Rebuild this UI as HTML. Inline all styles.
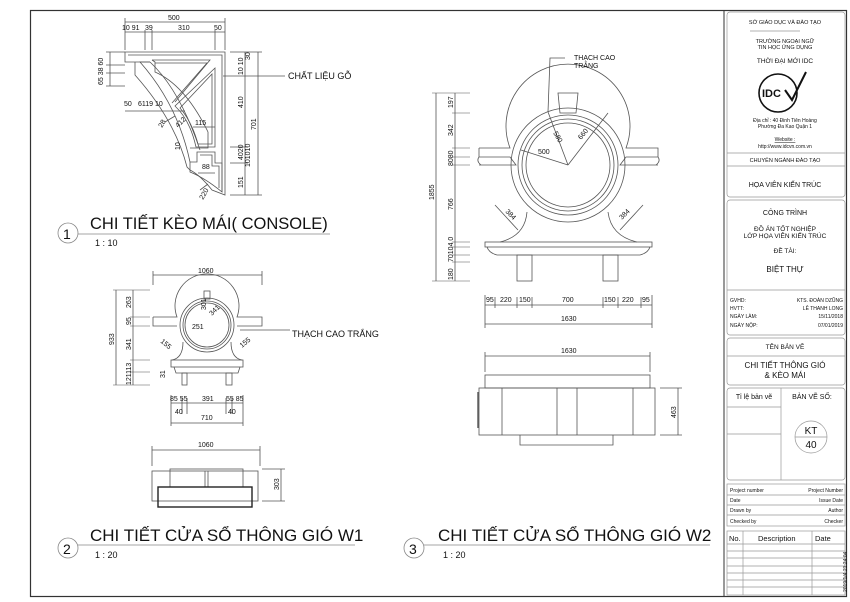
<!DOCTYPE html>
<html><head><meta charset="utf-8"><style>
html,body{margin:0;padding:0;background:#fff}
svg{display:block}
text{font-family:"Liberation Sans",sans-serif;fill:#111}
</style></head><body>
<svg width="850" height="602" viewBox="0 0 850 602" xmlns="http://www.w3.org/2000/svg">
<rect x="0" y="0" width="850" height="602" fill="#fff"/>
<rect x="30.5" y="10.5" width="816" height="586" fill="none" stroke="#333" stroke-width="1.2"/>
<line x1="724" y1="10" x2="724" y2="597" stroke="#333" stroke-width="1"/>

<g fill="none" stroke="#555" stroke-width="0.8">
<path d="M125,52 L225,52 L225,195 L212,190 Q200,175 190,170 L187,167 Q175,120 135,75 L135,62 L150,62 L125,62 Z"/>
<path d="M128,55 L222,55 L222,192"/>
<path d="M150,62 L140,62 Q178,105 190,162"/>
<path d="M150,62 Q180,90 200,150" />
<path d="M152,60 L155,62 L155,72 Q185,85 208,132 L208,148 L190,148"/>
<path d="M152,60 L210,60 L175,102"/>
<path d="M155,63 L207,63 L172,103"/>
<path d="M215,68 L215,147 L196,147 Q190,120 175,106 Z"/>
<path d="M212,74 L212,144 L198,144 Q192,122 180,108 Z"/>
<path d="M197,152 L215,152 L215,163 L222,163 L222,192 Q205,178 190,172 L190,162 L197,162 Z"/>
<path d="M200,155 L212,155 L212,166 L219,166 L219,188"/>
<line x1="125" y1="22" x2="225" y2="22"/><line x1="125" y1="32" x2="225" y2="32"/>
<line x1="125" y1="18" x2="125" y2="50"/><line x1="225" y1="18" x2="225" y2="50"/>
<line x1="145" y1="30" x2="145" y2="50"/><line x1="152" y1="30" x2="152" y2="50"/><line x1="215" y1="30" x2="215" y2="50"/>
<line x1="110" y1="52" x2="110" y2="86"/><line x1="106" y1="52" x2="125" y2="52"/><line x1="106" y1="65" x2="125" y2="65"/><line x1="106" y1="73" x2="125" y2="73"/><line x1="106" y1="86" x2="125" y2="86"/>
<line x1="125" y1="111" x2="185" y2="111"/><line x1="193" y1="127" x2="215" y2="127"/>
<line x1="245" y1="52" x2="245" y2="195"/><line x1="258" y1="52" x2="258" y2="195"/>
<line x1="230" y1="52" x2="262" y2="52"/><line x1="230" y1="195" x2="262" y2="195"/>
<line x1="230" y1="147" x2="248" y2="147"/><line x1="230" y1="163" x2="248" y2="163"/>
<line x1="198" y1="173" x2="215" y2="173"/>
<line x1="223" y1="76" x2="285" y2="76"/>
<line x1="165" y1="122" x2="175" y2="116"/><line x1="200" y1="190" x2="208" y2="184"/>
</g>
<g font-size="7">
<text x="168" y="20">500</text>
<text x="122" y="30">10 91</text><text x="145" y="30">39</text><text x="178" y="30">310</text><text x="214" y="30">50</text>
<text x="124" y="106">50</text><text x="138" y="106">6119 10</text>
<text x="195" y="125">115</text><text x="202" y="169">88</text>
<text transform="translate(103,85) rotate(-90)">65 38 60</text>
<text transform="translate(243,75) rotate(-90)">10 10</text>
<text transform="translate(250,60) rotate(-90)">30</text>
<text transform="translate(243,108) rotate(-90)">410</text>
<text transform="translate(256,130) rotate(-90)">701</text>
<text transform="translate(243,160) rotate(-90)">4020</text>
<text transform="translate(250,167) rotate(-90)">101010</text>
<text transform="translate(243,188) rotate(-90)">151</text>
<text transform="translate(178,128) rotate(-45)">412</text>
<text transform="translate(162,128) rotate(-60)">28</text>
<text transform="translate(180,150) rotate(-90)">10</text>
<text transform="translate(203,200) rotate(-60)">220</text>
</g>
<text x="288" y="79" font-size="9">CHẤT LIỆU GỖ</text>

<g fill="none" stroke="#555" stroke-width="0.8">
<path d="M479,148 L510,148 A62,62 0 1,1 626,148 L658,148 L658,157 L626,157 L620,165 L658,165 M479,148 L479,157 L510,157 L516,165 L479,165"/>
<path d="M479,157 Q476,161 481,165 M658,157 Q661,161 656,165"/>
<circle cx="568" cy="165" r="57"/>
<circle cx="568" cy="165" r="50"/>
<circle cx="568" cy="165" r="46"/>
<circle cx="568" cy="165" r="42"/>
<path d="M558,93 L578,93 L576,113 L560,113 Z"/>
<path d="M527,212 Q525,236 500,242 M608,212 Q611,236 637,242"/>
<rect x="485" y="242" width="167" height="5"/>
<path d="M487,247 Q489,253 497,255 L640,255 Q648,253 650,247"/>
<rect x="517" y="255" width="15" height="26"/><rect x="603" y="255" width="15" height="26"/>
<line x1="568" y1="165" x2="548" y2="112"/><line x1="568" y1="165" x2="608" y2="113"/><line x1="568" y1="165" x2="521" y2="150"/>
<path d="M548,112 L550,58 L565,58"/>
<line x1="495" y1="205" x2="518" y2="230"/><line x1="643" y1="205" x2="620" y2="230"/>
<line x1="436" y1="93" x2="436" y2="281"/><line x1="455" y1="93" x2="455" y2="281"/>
<g stroke-width="0.6">
<line x1="432" y1="93" x2="470" y2="93"/><line x1="452" y1="113" x2="470" y2="113"/><line x1="452" y1="148" x2="470" y2="148"/><line x1="452" y1="157" x2="470" y2="157"/><line x1="452" y1="165" x2="470" y2="165"/><line x1="452" y1="242" x2="470" y2="242"/><line x1="452" y1="247" x2="470" y2="247"/><line x1="452" y1="255" x2="470" y2="255"/><line x1="452" y1="262" x2="470" y2="262"/><line x1="432" y1="281" x2="470" y2="281"/>
</g>
<line x1="485" y1="305" x2="652" y2="305"/><line x1="485" y1="324" x2="652" y2="324"/>
<line x1="485" y1="295" x2="485" y2="328"/><line x1="652" y1="295" x2="652" y2="328"/>
<line x1="495" y1="297" x2="495" y2="308"/><line x1="517" y1="297" x2="517" y2="308"/><line x1="532" y1="297" x2="532" y2="308"/><line x1="603" y1="297" x2="603" y2="308"/><line x1="618" y1="297" x2="618" y2="308"/><line x1="641" y1="297" x2="641" y2="308"/>
<line x1="485" y1="356" x2="650" y2="356"/><line x1="485" y1="352" x2="485" y2="372"/><line x1="650" y1="352" x2="650" y2="372"/>
<rect x="485" y="375" width="165" height="13"/>
<rect x="479" y="388" width="176" height="47"/>
<line x1="502" y1="388" x2="502" y2="435"/><line x1="557" y1="388" x2="557" y2="435"/><line x1="577" y1="388" x2="577" y2="435"/><line x1="633" y1="388" x2="633" y2="435"/>
<polyline points="520,435 520,445 613,445 613,435"/>
<line x1="478" y1="392" x2="478" y2="428" stroke-width="1.4"/>
<line x1="678" y1="388" x2="678" y2="435"/><line x1="660" y1="388" x2="682" y2="388"/><line x1="660" y1="435" x2="682" y2="435"/>
</g>
<g font-size="7">
<text x="574" y="60">THẠCH CAO</text><text x="574" y="68">TRẮNG</text>
<text x="538" y="154">500</text>
<text transform="translate(553,133) rotate(60)">580</text>
<text transform="translate(581,140) rotate(-50)">660</text>
<text transform="translate(505,212) rotate(45)">384</text>
<text transform="translate(622,220) rotate(-45)">384</text>
<text transform="translate(434,200) rotate(-90)">1855</text>
<text transform="translate(453,108) rotate(-90)">197</text>
<text transform="translate(453,136) rotate(-90)">342</text>
<text transform="translate(453,166) rotate(-90)">8080</text>
<text transform="translate(453,210) rotate(-90)">766</text>
<text transform="translate(453,262) rotate(-90)">70104 0</text>
<text transform="translate(453,280) rotate(-90)">180</text>
<text x="486" y="302">95</text><text x="500" y="302">220</text><text x="519" y="302">150</text><text x="562" y="302">700</text><text x="604" y="302">150</text><text x="622" y="302">220</text><text x="642" y="302">95</text>
<text x="561" y="321">1630</text>
<text x="561" y="353">1630</text>
<text transform="translate(676,418) rotate(-90)">463</text>
</g>

<g fill="none" stroke="#555" stroke-width="0.8">
<path d="M153,317 L177,317 A32,32 0 1,1 237,317 L262,317 L262,326 L237,326 M153,317 L153,326 L177,326"/>
<circle cx="207" cy="325" r="27"/><circle cx="207" cy="325" r="24"/><circle cx="207" cy="325" r="22"/>
<rect x="204" y="291" width="6" height="8"/>
<path d="M183,342 Q183,358 172,360 M231,342 Q231,358 242,360"/>
<rect x="171" y="360" width="72" height="7"/>
<path d="M174,367 L176,373 L238,373 L240,367"/>
<rect x="182" y="373" width="5" height="12"/><rect x="226" y="373" width="6" height="12"/>
<line x1="240" y1="330" x2="290" y2="330"/>
<line x1="153" y1="275" x2="262" y2="275"/><line x1="153" y1="271" x2="153" y2="285"/><line x1="262" y1="271" x2="262" y2="285"/>
<line x1="116" y1="290" x2="116" y2="385"/><line x1="133" y1="290" x2="133" y2="385"/>
<g stroke-width="0.6"><line x1="113" y1="290" x2="150" y2="290"/><line x1="130" y1="317" x2="150" y2="317"/><line x1="130" y1="326" x2="150" y2="326"/><line x1="130" y1="360" x2="150" y2="360"/><line x1="130" y1="372" x2="150" y2="372"/><line x1="113" y1="385" x2="150" y2="385"/></g>
<line x1="171" y1="403" x2="243" y2="403"/><line x1="171" y1="423" x2="243" y2="423"/>
<line x1="171" y1="395" x2="171" y2="426"/><line x1="243" y1="395" x2="243" y2="426"/>
<line x1="182" y1="398" x2="182" y2="414"/><line x1="187" y1="398" x2="187" y2="414"/><line x1="226" y1="398" x2="226" y2="414"/><line x1="232" y1="398" x2="232" y2="414"/>
<line x1="152" y1="450" x2="260" y2="450"/><line x1="152" y1="446" x2="152" y2="466"/><line x1="260" y1="446" x2="260" y2="466"/>
<rect x="152" y="471" width="106" height="30"/>
<rect x="170" y="469" width="73" height="18"/>
<line x1="205" y1="471" x2="205" y2="487"/><line x1="208" y1="471" x2="208" y2="487"/>
<rect x="158" y="487" width="94" height="20" stroke="#222" stroke-width="1.4"/>
<line x1="281" y1="469" x2="281" y2="501"/><line x1="262" y1="469" x2="285" y2="469"/><line x1="262" y1="501" x2="285" y2="501"/>
</g>
<g font-size="7">
<text x="198" y="273">1060</text>
<text transform="translate(114,345) rotate(-90)">933</text>
<text transform="translate(131,308) rotate(-90)">263</text>
<text transform="translate(131,325) rotate(-90)">95</text>
<text transform="translate(131,350) rotate(-90)">341</text>
<text transform="translate(131,385) rotate(-90)">121113</text>
<text transform="translate(165,378) rotate(-90)">31</text>
<text x="192" y="329">251</text>
<text transform="translate(206,310) rotate(-90)">301</text>
<text transform="translate(212,316) rotate(-45)">341</text>
<text transform="translate(160,342) rotate(40)">155</text>
<text transform="translate(242,348) rotate(-40)">155</text>
<text x="170" y="401">85 55</text><text x="202" y="401">391</text><text x="226" y="401">55 85</text>
<text x="175" y="414">40</text><text x="228" y="414">40</text>
<text x="201" y="420">710</text>
<text x="198" y="447">1060</text>
<text transform="translate(279,490) rotate(-90)">303</text>
</g>
<text x="292" y="337" font-size="9">THẠCH CAO TRẮNG</text>

<g fill="none" stroke="#888" stroke-width="0.8">
<circle cx="68" cy="233" r="10"/><line x1="78" y1="234" x2="330" y2="234"/>
<circle cx="68" cy="548" r="10"/><line x1="78" y1="545" x2="355" y2="545"/>
<circle cx="414" cy="548" r="10"/><line x1="424" y1="545" x2="710" y2="545"/>
</g>
<text x="63" y="239" font-size="14">1</text>
<text x="90" y="229" font-size="16.5">CHI TIẾT KÈO MÁI( CONSOLE)</text>
<text x="95" y="246" font-size="9">1 : 10</text>
<text x="63" y="554" font-size="14">2</text>
<text x="90" y="541" font-size="17">CHI TIẾT CỬA SỔ THÔNG GIÓ W1</text>
<text x="95" y="558" font-size="9">1 : 20</text>
<text x="409" y="554" font-size="14">3</text>
<text x="438" y="541" font-size="17">CHI TIẾT CỬA SỔ THÔNG GIÓ W2</text>
<text x="443" y="558" font-size="9">1 : 20</text>

<g fill="none" stroke="#999" stroke-width="0.7">
<rect x="727" y="12" width="118" height="185" rx="3"/>
<rect x="727" y="200" width="118" height="135" rx="3"/>
<rect x="727" y="338" width="118" height="47" rx="3"/>
<rect x="727" y="388" width="118" height="92" rx="3"/>
<line x1="750" y1="31" x2="800" y2="31"/>
<line x1="727" y1="153" x2="845" y2="153"/><line x1="727" y1="166" x2="845" y2="166"/>
<line x1="727" y1="290" x2="845" y2="290"/>
<line x1="727" y1="356" x2="845" y2="356"/>
<line x1="781" y1="388" x2="781" y2="480"/><line x1="727" y1="407" x2="781" y2="407"/><line x1="727" y1="434" x2="781" y2="434"/>
<circle cx="811" cy="437" r="16"/><line x1="795" y1="437" x2="827" y2="437"/>
<rect x="727" y="484" width="118" height="42"/>
<line x1="727" y1="495" x2="845" y2="495"/><line x1="727" y1="505" x2="845" y2="505"/><line x1="727" y1="515" x2="845" y2="515"/>
<rect x="727" y="531" width="118" height="64"/>
<line x1="743" y1="531" x2="743" y2="595"/><line x1="812" y1="531" x2="812" y2="595"/>
<line x1="727" y1="544" x2="845" y2="544"/><line x1="727" y1="551" x2="845" y2="551"/><line x1="727" y1="558" x2="845" y2="558"/><line x1="727" y1="566" x2="845" y2="566"/><line x1="727" y1="573" x2="845" y2="573"/><line x1="727" y1="580" x2="845" y2="580"/><line x1="727" y1="587" x2="845" y2="587"/>
</g>
<circle cx="778" cy="93" r="19" fill="none" stroke="#111" stroke-width="1.6"/>
<path d="M785,90 L792,100 L806,72" fill="none" stroke="#111" stroke-width="2"/>
<text x="762" y="97" font-size="11" font-weight="bold" font-family="Liberation Serif">IDC</text>
<g font-size="5.5" text-anchor="middle">
<text x="785" y="24">SỞ GIÁO DỤC VÀ ĐÀO TẠO</text>
<text x="785" y="43">TRƯỜNG NGOẠI NGỮ</text>
<text x="785" y="49">TIN HỌC ỨNG DỤNG</text>
<text x="785" y="63" font-size="6.5">THỜI ĐẠI MỚI IDC</text>
<text x="785" y="122" font-size="5">Địa chỉ : 40 Đinh Tiên Hoàng</text>
<text x="785" y="128" font-size="5">Phường Đa Kao Quận 1</text>
<text x="785" y="141" font-size="5" text-decoration="underline">Website :</text>
<text x="785" y="148" font-size="5">http://www.idcvn.com.vn</text>
<text x="785" y="162">CHUYÊN NGÀNH ĐÀO TẠO</text>
<text x="785" y="187" font-size="7">HỌA VIÊN KIẾN TRÚC</text>
<text x="785" y="215" font-size="7">CÔNG TRÌNH</text>
<text x="785" y="231" font-size="6.5">ĐỒ ÁN TỐT NGHIỆP</text>
<text x="785" y="238" font-size="6.5">LỚP HỌA VIÊN KIẾN TRÚC</text>
<text x="785" y="253" font-size="6.5">ĐỀ TÀI:</text>
<text x="785" y="272" font-size="8">BIỆT THỰ</text>
<text x="785" y="349" font-size="6.5">TÊN BẢN VẼ</text>
<text x="785" y="368" font-size="8">CHI TIẾT THÔNG GIÓ</text>
<text x="785" y="378" font-size="8">&amp; KÈO MÁI</text>
<text x="754" y="399" font-size="7">Tỉ lệ bản vẽ</text>
<text x="812" y="399" font-size="7">BẢN VẼ SỐ:</text>
<text x="811" y="434" font-size="10">KT</text>
<text x="811" y="448" font-size="10">40</text>
</g>
<g font-size="5">
<text x="730" y="302">GVHD:</text><text x="843" y="302" text-anchor="end">KTS. ĐOÀN DZŨNG</text>
<text x="730" y="310">HVTT:</text><text x="843" y="310" text-anchor="end">LÊ THANH LONG</text>
<text x="730" y="318">NGÀY LÀM:</text><text x="843" y="318" text-anchor="end">15/11/2018</text>
<text x="730" y="327">NGÀY NỘP:</text><text x="843" y="327" text-anchor="end">07/01/2019</text>
<text x="730" y="492" font-family="Liberation Serif" fill="#666">Project number</text><text x="843" y="492" text-anchor="end">Project Number</text>
<text x="730" y="502" font-family="Liberation Serif" fill="#666">Date</text><text x="843" y="502" text-anchor="end">Issue Date</text>
<text x="730" y="512" font-family="Liberation Serif" fill="#666">Drawn by</text><text x="843" y="512" text-anchor="end">Author</text>
<text x="730" y="523" font-family="Liberation Serif" fill="#666">Checked by</text><text x="843" y="523" text-anchor="end">Checker</text>
</g>
<g font-size="7.5">
<text x="729" y="541">No.</text><text x="758" y="541">Description</text><text x="815" y="541">Date</text>
</g>
<text transform="translate(847,592) rotate(-90)" font-size="5">2019/1/4 21:24:04</text>
</svg>
</body></html>
